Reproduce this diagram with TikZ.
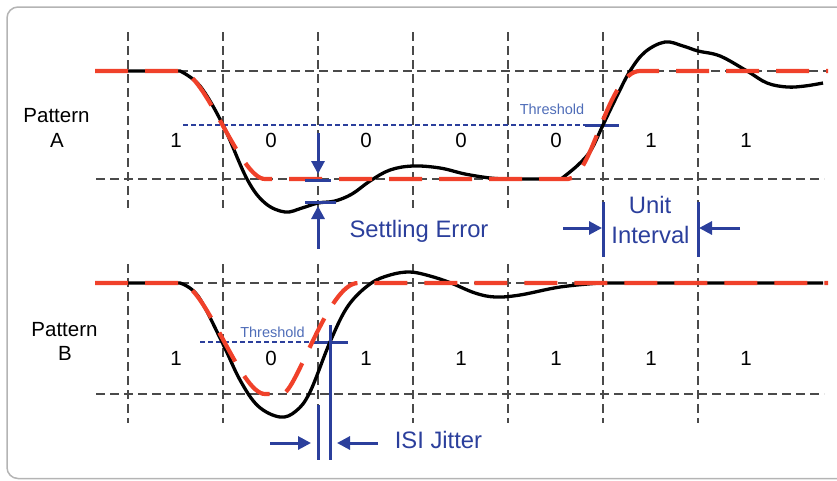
\documentclass[tikz,border=0pt]{standalone}
\usepackage{fontspec}
\setmainfont{Liberation Sans}
\usetikzlibrary{arrows.meta}
\definecolor{rd}{HTML}{F0412A}
\definecolor{bl}{HTML}{2B3F9C}
\definecolor{thr}{HTML}{4F6DB8}
\definecolor{grd}{HTML}{4A4A4A}
\definecolor{frm}{HTML}{B4B4B4}
\begin{document}
\begin{tikzpicture}[x=1pt,y=-1pt,
 gridln/.style={grd,line width=1.2pt,dash pattern=on 9pt off 5pt},
 sig/.style={black,line width=3.3pt,line join=round},
 ideal/.style={rd,line width=4.2pt,dash pattern=on 33pt off 17pt},
 thrline/.style={bl,line width=1.6pt,dash pattern=on 5pt off 3pt},
 ann/.style={bl,line width=3pt},
 annarr/.style={bl,line width=3pt,-{Triangle[width=13pt,length=13pt]}},
 lbl/.style={font=\fontsize{20.5}{24}\selectfont,anchor=base,inner sep=0pt},
 blbl/.style={text=bl,font=\fontsize{23.8}{27}\selectfont,anchor=base,inner sep=0pt},
 tlbl/.style={text=thr,font=\fontsize{14.5}{17}\selectfont,anchor=base,inner sep=0pt}]
\useasboundingbox (0,0) rectangle (837,480);
\clip (0,0) rectangle (837,480);
\draw[frm,line width=1.5pt,rounded corners=11pt] (7,7) rectangle (870,478.5);

% grid
\foreach \x in {128,223,318,413,508,603,698}{
  \draw[gridln] (\x,32) -- (\x,208);
  \draw[gridln] (\x,264) -- (\x,423);
}
\draw[gridln] (95,71) -- (828,71);
\draw[gridln] (96,179) -- (824,179);
\draw[gridln] (96,283) -- (824,283);
\draw[gridln] (96,394) -- (824,394);

% thresholds
\coordinate (thA1) at (183,125); \coordinate (thA2) at (585,125); \coordinate (thA3) at (619,125);
\draw[thrline] (thA1) -- (thA2);
\draw[ann] (thA2) -- (thA3);
\coordinate (thB1) at (200,342); \coordinate (thB2) at (313,342); \coordinate (thB3) at (348,342);
\draw[thrline] (thB1) -- (thB2);
\draw[ann] (thB2) -- (thB3);

% black signal A
\draw[sig] (128,71) -- plot[smooth,tension=0.6] coordinates {(180,71) (200,86) (223,125) (247,179) (265,203) (285,212) (302,208) (318,203) (335,201) (352,194) (370,181) (390,170) (413,166) (440,168) (465,174) (490,178) (508,179)} -- plot[smooth,tension=0.6] coordinates {(561,179) (578,165) (591,150) (603,125) (617,96) (630,71) (645,52) (665,42) (683,46) (698,51) (720,56) (747,71) (767,83) (787,87) (805,86) (823,83)};
% red ideal A
\draw[ideal] (95,71) -- (180,71) .. controls (205,71) and (240,179) .. (265,179) -- (568,179) .. controls (592,179) and (608,71) .. (640,71) -- (828,71);

% black signal B
\draw[sig] (128,283) -- plot[smooth,tension=0.6] coordinates {(180,283) (198,296) (222,342) (240,380) (258,406) (280,417) (296,411) (310,392) (330,342) (348,306) (370,284) (390,275) (410,272) (430,276) (451,283) (475,293) (495,297) (520,295) (560,287) (600,283)} -- (823,283);
% red ideal B
\draw[ideal] (95,283) -- (180,283) .. controls (205,283) and (240,394) .. (265,394) -- (282,394) .. controls (296,394) and (328,283) .. (358,283) -- (828,283);

% settling error
\coordinate (seD1) at (318,133); \coordinate (seD2) at (318,174);
\coordinate (seU1) at (318,249); \coordinate (seU2) at (318,206);
\coordinate (seb1) at (305,180); \coordinate (seb2) at (331,180);
\coordinate (seb3) at (305,202); \coordinate (seb4) at (336,202);
\draw[annarr] (seD1) -- (seD2);
\draw[annarr] (seU1) -- (seU2);
\draw[ann] (seb1) -- (seb2);
\draw[ann] (seb3) -- (seb4);

% unit interval
\coordinate (ui1) at (603,202); \coordinate (ui2) at (603,257);
\coordinate (ui3) at (698,202); \coordinate (ui4) at (698,257);
\coordinate (uiL) at (563,228); \coordinate (uiLe) at (602,228);
\coordinate (uiR) at (740,228); \coordinate (uiRe) at (699,228);
\draw[ann] (ui1) -- (ui2);
\draw[ann] (ui3) -- (ui4);
\draw[annarr] (uiL) -- (uiLe);
\draw[annarr] (uiR) -- (uiRe);

% ISI jitter
\coordinate (ij1) at (318,405); \coordinate (ij2) at (318,460);
\coordinate (ij3) at (330,325); \coordinate (ij4) at (330,460);
\coordinate (ijL) at (270,443); \coordinate (ijLe) at (311,443);
\coordinate (ijR) at (378,443); \coordinate (ijRe) at (337,443);
\draw[ann] (ij1) -- (ij2);
\draw[ann] (ij3) -- (ij4);
\draw[annarr] (ijL) -- (ijLe);
\draw[annarr] (ijR) -- (ijRe);

% labels
\node[lbl] (pA1) at (56.5,122) {Pattern};
\node[lbl] (pA2) at (57,147) {A};
\node[lbl] (pB1) at (64.5,336) {Pattern};
\node[lbl] (pB2) at (65,360.5) {B};
\foreach \x/\b [count=\i] in {176/1,271/0,366/0,461/0,556/0,651/1,746/1}{
  \node[lbl] (bA\i) at (\x,147) {\b};
}
\foreach \x/\b [count=\i] in {176/1,271/0,366/1,461/1,556/1,651/1,746/1}{
  \node[lbl] (bB\i) at (\x,365) {\b};
}
\node[tlbl] (tA) at (552,114.5) {Threshold};
\node[tlbl] (tB) at (272.5,337) {Threshold};
\node[blbl] (se) at (419,237) {Settling Error};
\node[blbl] (u1) at (650,213) {Unit};
\node[blbl] (u2) at (650.5,243) {Interval};
\node[blbl] (isi) at (438.5,448) {ISI Jitter};
\end{tikzpicture}
\end{document}
